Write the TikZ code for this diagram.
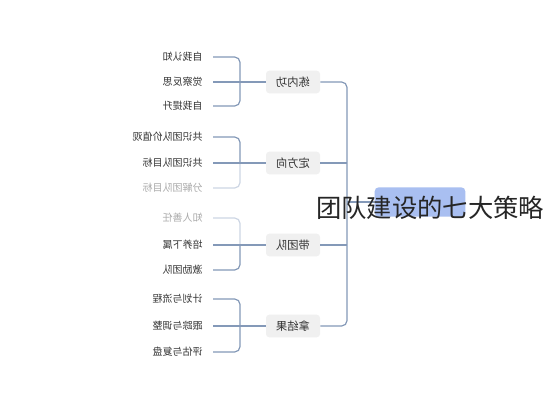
\documentclass[tikz,border=0pt]{standalone}
\usepackage{fontspec}
\setmainfont{Noto Sans CJK SC}
\usetikzlibrary{calc}
\definecolor{linec}{HTML}{8499B8}
\definecolor{fadel}{HTML}{CDD6E4}
\definecolor{leafc}{HTML}{333333}
\definecolor{fadec}{HTML}{AAAAAA}
\definecolor{boxc}{HTML}{F0F0F0}
\definecolor{midc}{HTML}{333333}
\definecolor{rootc}{HTML}{A9BFF1}
\begin{document}
\begin{tikzpicture}[x=0.75pt,y=-0.75pt,
  leaf/.style={anchor=east,inner sep=0pt,font=\fontsize{7.5}{8}\selectfont,text=leafc},
  fadeleaf/.style={leaf,text=fadec},
  midbox/.style={fill=boxc,rounded corners=2.5pt,minimum width=40.5pt,minimum height=17pt,inner sep=0pt,font=\fontsize{8.5}{9}\selectfont,text=midc},
  rootbox/.style={fill=rootc,rounded corners=3pt,minimum width=68pt,minimum height=22pt,inner sep=0pt},
  link/.style={draw=linec,line width=0.9pt,rounded corners=4pt},
  fadelink/.style={link,draw=fadel},
  titletext/.style={anchor=west,inner sep=0pt,font=\fontsize{19}{21}\selectfont,text=black!85}
  ]
\useasboundingbox (0,0) rectangle (544,400);
\fill[white] (0,0) rectangle (544,400);

% level-2 boxes
\node[midbox] (b1) at (293,82) {\reflectbox{练内功}};
\node[midbox] (b2) at (293,163) {\reflectbox{定方向}};
\node[midbox] (b3) at (293,245) {\reflectbox{带团队}};
\node[midbox] (b4) at (293,326) {\reflectbox{拿结果}};

% root
\node[rootbox] (root) at (420,202) {};

% leaves
\node[leaf] (a1) at (203,57) {\reflectbox{自我认知}};
\node[leaf] (a2) at (203,82) {\reflectbox{觉察反思}};
\node[leaf] (a3) at (203,106) {\reflectbox{自我提升}};
\node[leaf] (c1) at (203,137) {\reflectbox{共识团队价值观}};
\node[leaf] (c2) at (203,163) {\reflectbox{共识团队目标}};
\node[fadeleaf] (c3) at (203,188) {\reflectbox{分解团队目标}};
\node[fadeleaf] (d1) at (203,218) {\reflectbox{知人善任}};
\node[leaf] (d2) at (203,245) {\reflectbox{培养下属}};
\node[leaf] (d3) at (203,270) {\reflectbox{激励团队}};
\node[leaf] (e1) at (203,299) {\reflectbox{计划与流程}};
\node[leaf] (e2) at (203,326) {\reflectbox{跟踪与调整}};
\node[leaf] (e3) at (203,352) {\reflectbox{评估与复盘}};

% bracket joints
\coordinate (v1) at (240,82);
\coordinate (v2) at (240,163);
\coordinate (v3) at (240,245);
\coordinate (v4) at (240,326);
\coordinate (tr) at (347,203);

% group 1
\draw[link] ($(a1.east)+(10,0)$) -| (v1) |- ($(a3.east)+(10,0)$);
\draw[link] ($(a2.east)+(10,0)$) -- (b1.west);
% group 2
\draw[link] ($(c1.east)+(10,0)$) -| (v2);
\draw[fadelink] (v2) |- ($(c3.east)+(10,0)$);
\draw[link] ($(c2.east)+(10,0)$) -- (b2.west);
% group 3
\draw[fadelink] ($(d1.east)+(10,0)$) -| (v3);
\draw[link] (v3) |- ($(d3.east)+(10,0)$);
\draw[link] ($(d2.east)+(10,0)$) -- (b3.west);
% group 4
\draw[link] ($(e1.east)+(10,0)$) -| (v4) |- ($(e3.east)+(10,0)$);
\draw[link] ($(e2.east)+(10,0)$) -- (b4.west);

% trunk
\draw[link] (b1.east) -| (tr) |- (b4.east);
\draw[link] (b2.east) -- (b2.east -| tr);
\draw[link] (b3.east) -- (b3.east -| tr);
\draw[link] (root.west) -- (root.west -| tr);

% title
\node[titletext] (title) at (316,208) {团队建设的七大策略};
\end{tikzpicture}
\end{document}
